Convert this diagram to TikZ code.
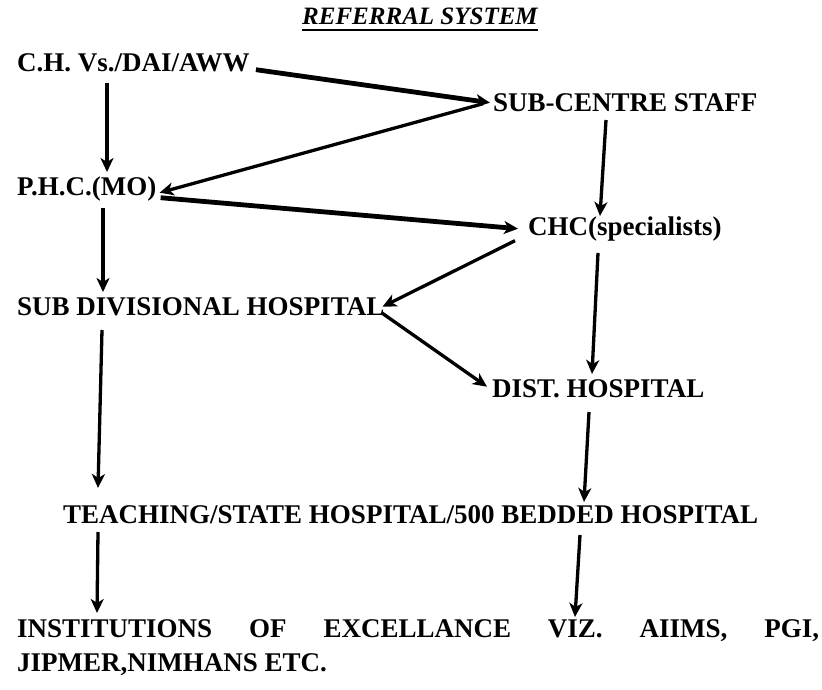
\documentclass[tikz,border=0pt]{standalone}
\usepackage{fontspec}
\setmainfont{Liberation Serif}
\usepackage{tikz}
\usetikzlibrary{arrows.meta}
\tikzstyle{Label}=[anchor=base west, inner sep=0pt, font=\bfseries\fontsize{27}{34}\selectfont]
\tikzstyle{Arrow}=[line width=3.3pt, -{Stealth[length=14pt,width=13pt,inset=4pt]}]
\tikzstyle{Heavy}=[Arrow, line width=4.8pt]

\begin{document}
\begin{tikzpicture}[x=1pt, y=-1pt]
    \useasboundingbox (0,0) rectangle (822,690);
    \path
    (302,25) node[Label, font=\bfseries\itshape\fontsize{25}{30}\selectfont] (title) {REFERRAL SYSTEM}
    (17,72) node[Label] (ch) {C.H. Vs./DAI/AWW}
    (493,112) node[Label] (sc) {SUB-CENTRE STAFF}
    (17,195) node[Label] (phc) {P.H.C.(MO)}
    (528,235) node[Label] (chc) {CHC(specialists)}
    (17,315) node[Label] (subdiv) {SUB DIVISIONAL HOSPITAL}
    (492,397) node[Label] (dist) {DIST. HOSPITAL}
    (63,523) node[Label] (teach) {TEACHING/STATE HOSPITAL/500 BEDDED HOSPITAL}
    (17,637) node[Label] (inst) {\makebox[802pt][s]{INSTITUTIONS OF EXCELLANCE VIZ. AIIMS, PGI,}}
    (17,671) node[Label] (instb) {JIPMER,NIMHANS ETC.};
    \draw[line width=2.5pt] ([yshift=-5pt]title.base west) -- ([yshift=-5pt]title.base east);

    % left column
    \draw[Arrow] ([xshift=90pt,yshift=-11pt]ch.base west) -- ([xshift=90pt,yshift=23pt]phc.base west);
    \draw[Arrow] ([xshift=86pt,yshift=-13pt]phc.base west) -- ([xshift=86pt,yshift=23pt]subdiv.base west);
    \draw[Arrow] ([xshift=85pt,yshift=-15pt]subdiv.base west) -- ([xshift=35pt,yshift=35pt]teach.base west);
    \draw[Arrow] ([xshift=35pt,yshift=-9pt]teach.base west) -- ([xshift=80pt,yshift=24pt]inst.base west);

    % right column
    \draw[Arrow] ([xshift=113pt,yshift=-8pt]sc.base west) -- ([xshift=72pt,yshift=19pt]chc.base west);
    \draw[Arrow] ([xshift=70pt,yshift=-18pt]chc.base west) -- ([xshift=100pt,yshift=23pt]dist.base west);
    \draw[Arrow] ([xshift=97pt,yshift=-15pt]dist.base west) -- ([xshift=521pt,yshift=21pt]teach.base west);
    \draw[Arrow] ([xshift=517pt,yshift=-12pt]teach.base west) -- ([xshift=558pt,yshift=20pt]inst.base west);

    % cross links
    \draw[Heavy] ([xshift=6pt]ch.mid east) -- ([xshift=-3pt,yshift=7pt]sc.mid west);
    \draw[Arrow] ([xshift=-10pt,yshift=6pt]sc.mid west) -- ([xshift=3pt]phc.mid east);
    \draw[Heavy] ([xshift=4pt,yshift=-5pt]phc.mid east) -- ([xshift=-10pt,yshift=4pt]chc.mid west);
    \draw[Arrow] ([xshift=-13pt,yshift=-8pt]chc.mid west) -- ([xshift=-2pt,yshift=6pt]subdiv.mid east);
    \draw[Arrow] ([xshift=-3pt]subdiv.mid east) -- ([xshift=-5pt,yshift=8pt]dist.mid west);
\end{tikzpicture}
\end{document}
